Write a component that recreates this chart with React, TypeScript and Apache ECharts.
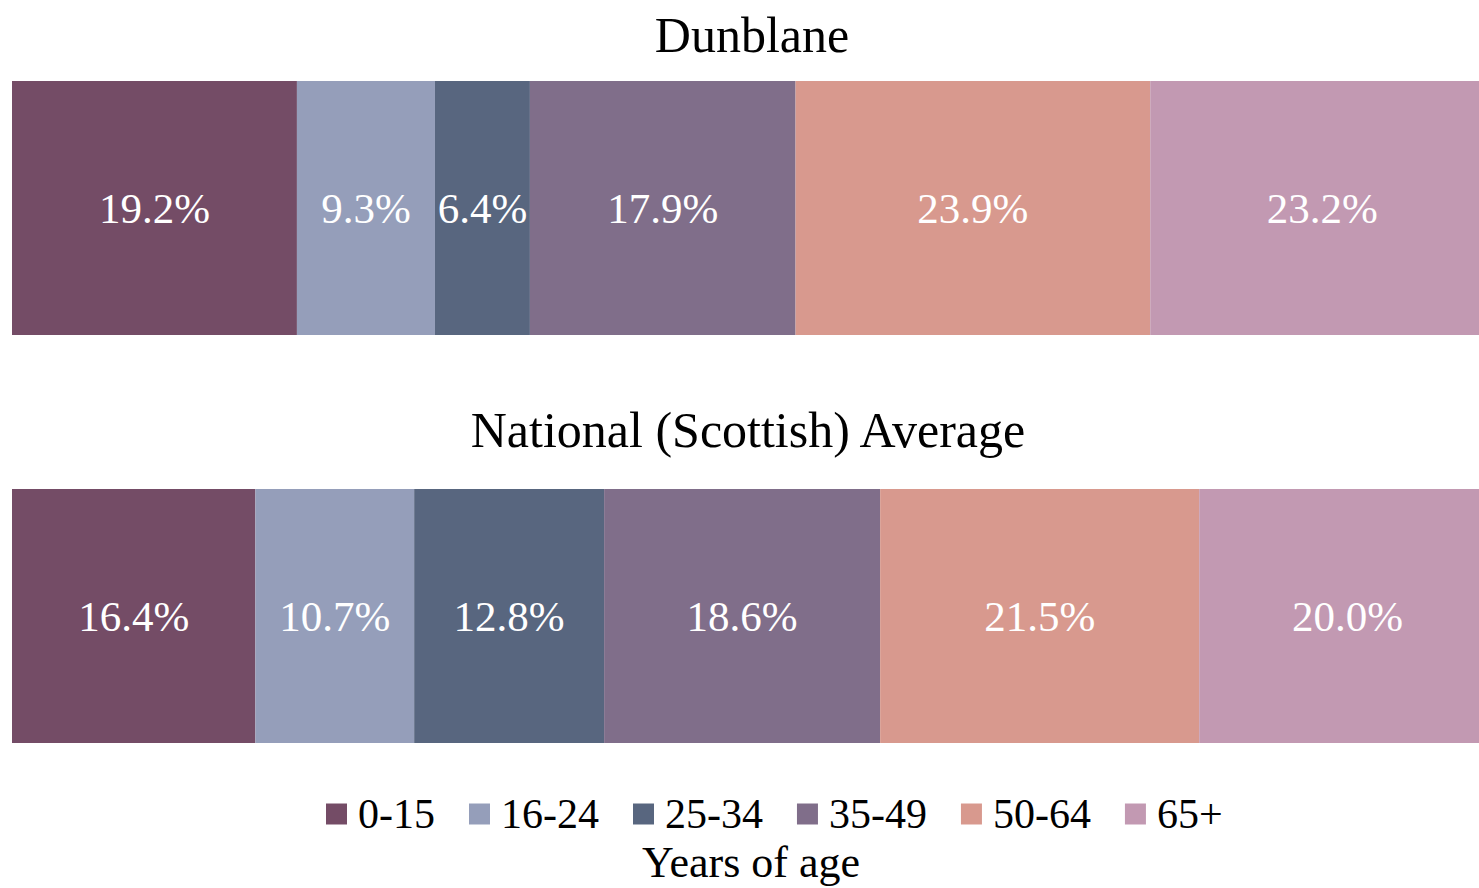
import React, { useEffect, useRef } from "react";
import * as echarts from "echarts";

const categories = ["Dunblane", "National (Scottish) Average"];
const ageGroups = ["0-15", "16-24", "25-34", "35-49", "50-64", "65+"];
const dunblane = [19.2, 9.3, 6.4, 17.9, 23.9, 23.2];
const national = [16.4, 10.7, 12.8, 18.6, 21.5, 20.0];
const colors = ["#744C66", "#959EBA", "#58667F", "#806E8A", "#D8998E", "#C299B2"];
const axisTitle = "Years of age";

const FONT = "'Liberation Serif', 'DejaVu Serif', serif";

export default function App() {
  const ref = useRef<HTMLDivElement>(null);
  useEffect(() => {
    if (!ref.current) return;
    const chart = echarts.init(ref.current, null, { renderer: "svg" });
    chart.setOption({
      animation: false,
      backgroundColor: "#ffffff",
      grid: { left: 12, right: 24, top: 4, height: 816, containLabel: false },
      xAxis: { type: "value", min: 0, max: 100, show: false },
      yAxis: {
        type: "category",
        data: categories,
        inverse: true,
        show: false,
      },
      legend: {
        data: ageGroups,
        left: 326,
        top: 793,
        padding: 0,
        itemWidth: 21,
        itemHeight: 21,
        itemGap: 34,
        icon: "rect",
        textStyle: { fontFamily: FONT, fontSize: 42, color: "#000", padding: [0, 0, 0, 6] },
      },
      graphic: [
        {
          type: "text",
          x: 752,
          y: 35,
          style: { text: categories[0], font: `50px ${FONT}`, fill: "#000", textAlign: "center", textVerticalAlign: "middle" },
        },
        {
          type: "text",
          x: 748,
          y: 430,
          style: { text: categories[1], font: `50px ${FONT}`, fill: "#000", textAlign: "center", textVerticalAlign: "middle" },
        },
        {
          type: "text",
          x: 751,
          y: 862,
          style: { text: axisTitle, font: `44px ${FONT}`, fill: "#000", textAlign: "center", textVerticalAlign: "middle" },
        },
      ],
      series: ageGroups.map((name, i) => ({
        name,
        type: "bar",
        stack: "total",
        barWidth: 254,
        data: [dunblane[i], national[i]],
        itemStyle: { color: colors[i] },
        label: {
          show: true,
          position: "inside",
          color: "#ffffff",
          fontFamily: FONT,
          fontSize: 43,
          formatter: (p: any) => `${Number(p.value).toFixed(1)}%`,
        },
      })),
    });
    return () => chart.dispose();
  }, []);
  return (
    <div style={{ position: "fixed", left: 0, top: 0, width: 1479, height: 888, overflow: "hidden", background: "#fff" }}>
      <div ref={ref} style={{ width: 1520, height: 888 }} />
    </div>
  );
}
